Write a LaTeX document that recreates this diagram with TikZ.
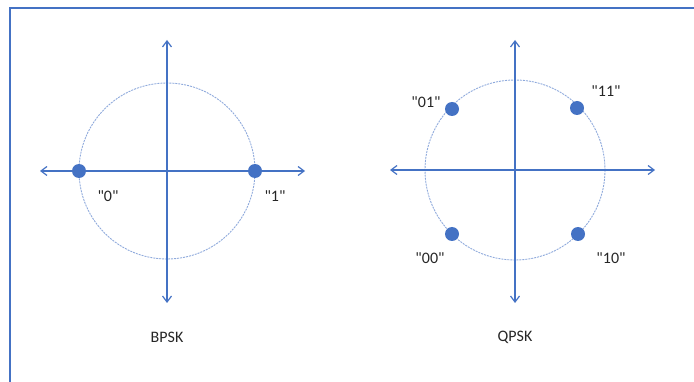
\documentclass[tikz,border=0pt]{standalone}
\usepackage{fontspec}
\setmainfont{Carlito}
\usetikzlibrary{arrows.meta}
\definecolor{axisblue}{HTML}{4472C4}
\definecolor{circblue}{HTML}{8FAADC}
\newcommand\qlab[1]{\textquotedbl#1\textquotedbl}
\tikzset{
  axis/.style={draw=axisblue, line width=1.2pt, {Straight Barb[length=6pt,width=9pt]}-{Straight Barb[length=6pt,width=9pt]}},
  ring/.style={draw=circblue, line width=0.9pt, dash pattern=on 2pt off 1pt},
  dot/.style={circle, fill=axisblue, minimum size=14pt, inner sep=0pt},
  lbl/.style={font=\fontsize{16}{18}\selectfont, text=black!85, inner sep=0pt},
  frame/.style={draw=axisblue, line width=2pt}
}
\begin{document}
\begin{tikzpicture}[x=1pt,y=-1pt]
\useasboundingbox (0,0) rectangle (694,382);
\draw[frame] (10,382) -- (10,8) -- (694,8);
% BPSK
\coordinate (bc) at (167,171);
\coordinate (bl) at (40,171); \coordinate (br) at (305,171);
\coordinate (bt) at (167,40); \coordinate (bb) at (167,303);
\draw[ring] (bc) circle[radius=88];
\draw[axis] (bl) -- (br);
\draw[axis] (bt) -- (bb);
\node[dot] (b0) at (79,171) {};
\node[dot] (b1) at (255,171) {};
\node[lbl] (l0) at (108,196) {\qlab{0}};
\node[lbl] (l1) at (275,196) {\qlab{1}};
\node[lbl] (bpsk) at (167,337) {BPSK};
% QPSK
\coordinate (qc) at (515,170);
\coordinate (ql) at (390,170); \coordinate (qr) at (655,170);
\coordinate (qt) at (515,40); \coordinate (qb) at (515,303);
\draw[ring] (qc) circle[radius=90];
\draw[axis] (ql) -- (qr);
\draw[axis] (qt) -- (qb);
\node[dot] (q01) at (452,109) {};
\node[dot] (q11) at (577,108) {};
\node[dot] (q00) at (452,234) {};
\node[dot] (q10) at (578,234) {};
\node[lbl] (l01) at (426,102) {\qlab{01}};
\node[lbl] (l11) at (606,91) {\qlab{11}};
\node[lbl] (l00) at (430,258) {\qlab{00}};
\node[lbl] (l10) at (611,258) {\qlab{10}};
\node[lbl] (qpsk) at (515,337) {QPSK};
\end{tikzpicture}
\end{document}
